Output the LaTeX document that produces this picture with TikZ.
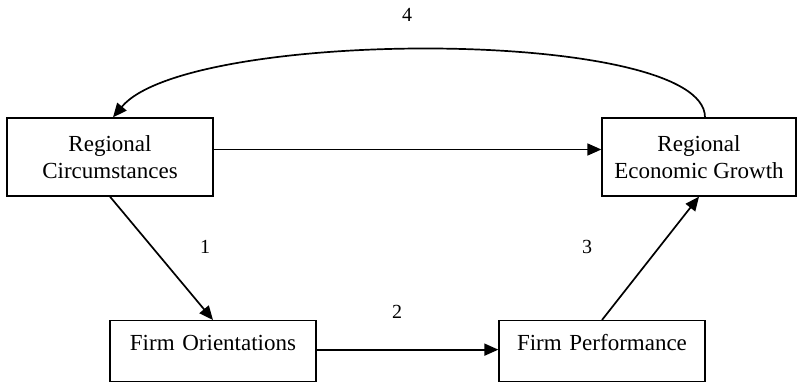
\documentclass[tikz,border=0pt]{standalone}
\usepackage{fontspec}
\setmainfont{Liberation Serif}
\usetikzlibrary{arrows.meta}
\begin{document}
\begin{tikzpicture}[x=1pt,y=-1pt,
  box/.style={draw,line width=1.3pt,rectangle,inner sep=0pt,align=center,
    font=\fontsize{23}{27}\selectfont},
  lowbox/.style={draw,line width=1.3pt,rectangle,inner xsep=0pt,inner ysep=0pt,
    text height=30pt,text depth=31pt,font=\fontsize{23}{27}\selectfont},
  arr/.style={line width=1.7pt,-{Triangle[length=14pt,width=12pt]}},
  num/.style={font=\fontsize{20}{24}\selectfont}]
\useasboundingbox (0,0) rectangle (798,382);

% the four boxes
\node[box,minimum width=206pt,minimum height=78pt] (rc) at (110,157)
  {Regional\\Circumstances};
\node[box,minimum width=194pt,minimum height=78pt] (rg) at (699,157)
  {Regional\\Economic Growth};
\node[lowbox,text width=206pt,align=center,anchor=north] (fo) at (213,320)
  {Firm Orientations};
\node[lowbox,text width=206pt,align=center,anchor=north] (fp) at (602,320)
  {Firm Performance};

% direct and mediated paths
\draw[arr] ([yshift=7.5pt]rc.east) -- ([yshift=7.5pt]rg.west);
\draw[arr] (rc.south) -- (fo.north);
\draw[arr] ([yshift=1.5pt]fo.east) -- ([yshift=1.5pt]fp.west);
\draw[arr] (fp.north) -- (rg.south);

% feedback loop
\draw[arr] ([xshift=6pt]rg.north) .. controls +(0,-90) and +(75,-90) .. ([xshift=3pt]rc.north);

% path labels
\node[num] (n1) at (205,247) {1};
\node[num] (n2) at (397,312) {2};
\node[num] (n3) at (587,247) {3};
\node[num] (n4) at (407,15) {4};
\end{tikzpicture}
\end{document}
